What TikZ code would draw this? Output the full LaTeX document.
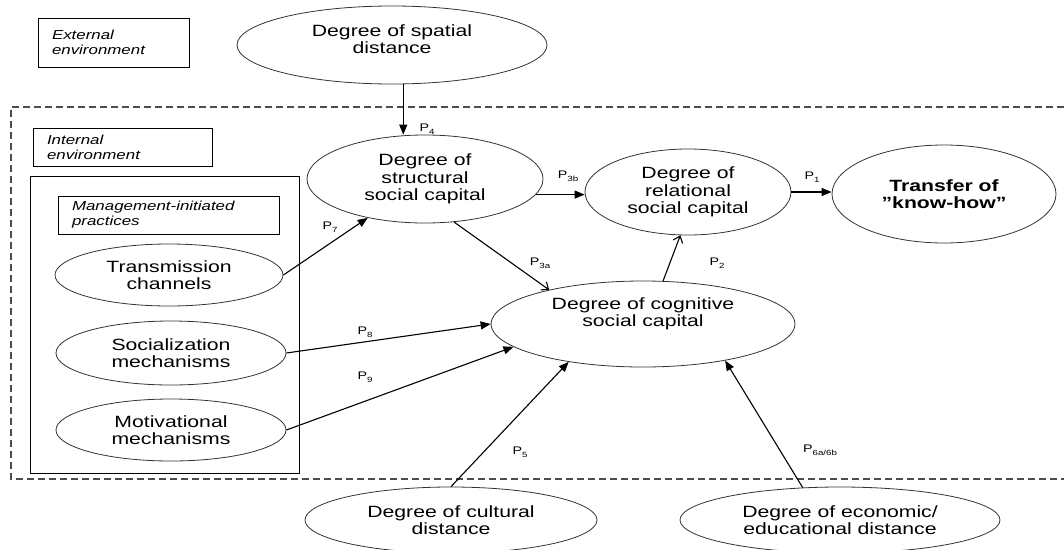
\documentclass[tikz,border=0pt]{standalone}
\usepackage{fontspec}
\setmainfont{Liberation Sans}[FakeStretch=1.3]
\usepackage{tikz}
\usetikzlibrary{calc,positioning,shapes.geometric,arrows.meta}
\newcommand{\pnum}[1]{P\raisebox{-2.5pt}{\fontsize{7.5}{8}\selectfont #1}}
\tikzset{
  ovaltext/.style={inner sep=0pt,align=center,font=\fontsize{16.3}{17.5}\selectfont},
  oval/.style={ovaltext,ellipse,draw=black!80,line width=0.8pt},
  envbox/.style={draw,line width=0.9pt,inner xsep=14pt,inner ysep=0pt,align=left,font=\fontsize{13}{15}\selectfont\itshape},
  plab/.style={inner sep=0pt,font=\fontsize{11}{12}\selectfont},
  solidarr/.style={line width=1.1pt,-{Triangle[length=10pt,width=8pt]}},
  openarr/.style={line width=1.1pt,-{Straight Barb[length=6pt,width=10pt]}}
}

\begin{document}
\begin{tikzpicture}[x=1pt,y=-1pt]
\useasboundingbox (0,0) rectangle (1064,549);
\node[envbox,minimum height=49pt,text width=123pt] (external) at (113.5,42.5) {External\\environment};
\node[oval,minimum width=310pt,minimum height=78pt] (spatial) at (392,45) {};
\node[ovaltext] (spatialtext) at (392,39) {Degree of spatial\\distance};
\draw[black!70,line width=1.1pt,dash pattern=on 7pt off 4pt] (1064,107) -- (11,107) -- (11,479) -- (1064,479);
\node[envbox,minimum height=38pt,text width=151pt] (internal) at (122.5,147) {Internal\\environment};
\node[draw,line width=0.9pt,minimum width=269pt,minimum height=297pt,inner sep=0pt] (mgmt) at (164.5,324.5) {};
\node[envbox,minimum height=38pt,text width=193pt] (practices) at (168.5,215) {Management-initiated\\practices};
\node[oval,minimum width=228pt,minimum height=62pt] (transmission) at (169,275) {Transmission\\channels};
\node[oval,minimum width=230pt,minimum height=64pt] (socialization) at (171,353) {Socialization\\mechanisms};
\node[oval,minimum width=230pt,minimum height=62pt] (motivational) at (171,430) {Motivational\\mechanisms};
\node[oval,minimum width=236pt,minimum height=88pt] (structural) at (425,179) {Degree of\\structural\\social capital};
\node[oval,minimum width=206pt,minimum height=86pt] (relational) at (688,192) {Degree of\\relational\\social capital};
\node[oval,minimum width=224pt,minimum height=98pt,font=\fontsize{16.3}{17.5}\selectfont\bfseries] (transfer) at (944,194) {Transfer of\\”know-how”};
\node[oval,minimum width=304pt,minimum height=86pt] (cognitive) at (643,324) {};
\node[ovaltext] (cognitivetext) at (643,314) {Degree of cognitive\\social capital};
\node[oval,minimum width=292pt,minimum height=66pt] (cultural) at (451,520) {Degree of cultural\\distance};
\node[oval,minimum width=320pt,minimum height=66pt] (economic) at (840,520) {Degree of economic/\\educational distance};
\draw[solidarr] (spatial.-74) -- (spatial.-74 |- structural.north);
\draw[solidarr] (transmission.east) -- (structural);
\draw[solidarr] (structural.-8) -- (structural.-8 -| relational.west);
\draw[solidarr] (relational.east) -- (relational.east -| transfer.west);
\draw[openarr] (structural.-56) -- (cognitive.160);
\draw[openarr] (cognitive.65) -- (relational.-100);
\draw[solidarr] (socialization.east) -- (cognitive.west);
\draw[solidarr] (motivational.east) -- (cognitive.190);
\draw[solidarr] (cultural.north) -- (cognitive.207);
\draw[solidarr] (economic.139) -- (cognitive.-24);
\node[plab] (p4) at (427,129) {\pnum{4}};
\node[plab] (p7) at (330,227) {\pnum{7}};
\node[plab] (p3b) at (568,176) {\pnum{3b}};
\node[plab] (p1) at (812,177) {\pnum{1}};
\node[plab] (p3a) at (540,263) {\pnum{3a}};
\node[plab] (p2) at (717,263) {\pnum{2}};
\node[plab] (p8) at (365,332) {\pnum{8}};
\node[plab] (p9) at (365,377) {\pnum{9}};
\node[plab] (p5) at (520,452) {\pnum{5}};
\node[plab] (p6) at (820,450) {\pnum{6a/6b}};
\end{tikzpicture}
\end{document}
